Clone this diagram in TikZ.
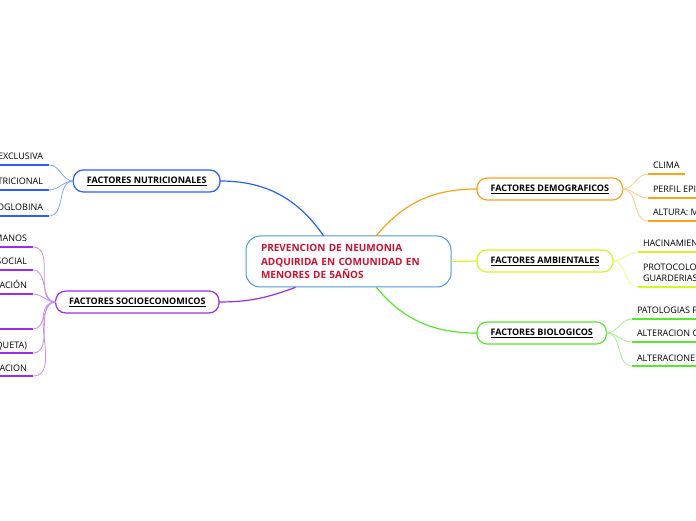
\documentclass[tikz,border=0pt]{standalone}
\usepackage{fontspec}
\setmainfont{Open Sans}
\usetikzlibrary{positioning}

\definecolor{rootline}{RGB}{74,150,222}
\definecolor{roottext}{RGB}{200,20,50}
\definecolor{nutriC}{RGB}{40,95,250}
\definecolor{socioC}{RGB}{155,45,230}
\definecolor{demoC}{RGB}{255,160,25}
\definecolor{ambC}{RGB}{215,245,35}
\definecolor{bioC}{RGB}{85,232,45}

\newcommand{\leaffont}{\fontsize{9}{11.5}\selectfont}

\begin{document}
\begin{tikzpicture}[x=1pt, y=1pt, line join=round, line cap=round,
    root/.style={draw=rootline, line width=1pt, rounded corners=14pt, fill=white,
      text width=175pt, align=left, inner xsep=15pt, minimum height=51pt,
      font=\fontsize{10}{13.5}\selectfont\bfseries, text=roottext},
    branch/.style={draw=#1, line width=1.2pt, rounded corners=10pt, fill=white,
      minimum height=22pt, inner xsep=13.5pt, outer sep=0pt,
      font=\fontsize{9}{10}\selectfont\bfseries},
    leafL/.style={anchor=south east, inner xsep=6pt, inner ysep=5pt, outer sep=0pt,
      text depth=0pt, font=\leaffont},
    leafR/.style={anchor=south west, inner xsep=5pt, inner ysep=5pt, outer sep=0pt,
      text depth=0pt, align=left, font=\leaffont},
    ul/.style={draw=#1, line width=1.8pt, line cap=butt},
    fan/.style={draw=#1!55, line width=0.8pt},
    main/.style={draw=#1, line width=1.2pt}]

    \useasboundingbox (0,0) rectangle (696,520);
    \clip (0,0) rectangle (696,520);

    % central topic
    \node[root] (prev) at (348.5,258.5)
      {PREVENCION DE NEUMONIA\\ADQUIRIDA EN COMUNIDAD EN\\MENORES DE 5AÑOS};

    % main branches
    \node[branch=nutriC, anchor=east] (nutri) at (220,339) {\underline{FACTORES NUTRICIONALES}};
    \node[branch=socioC, anchor=east] (socio) at (219,218) {\underline{FACTORES SOCIOECONOMICOS}};
    \node[branch=demoC, anchor=west] (demo) at (477,331) {\underline{FACTORES DEMOGRAFICOS}};
    \node[branch=ambC, anchor=west] (amb) at (477,259) {\underline{FACTORES AMBIENTALES}};
    \node[branch=bioC, anchor=west] (bio) at (477,187) {\underline{FACTORES BIOLOGICOS}};

    \draw[main=nutriC] (prev.134) to[out=125, in=0] (nutri.east);
    \draw[main=socioC] (prev.206) to[out=200, in=0] (socio.east);
    \draw[main=demoC] (prev.43) to[out=50, in=180] (demo.west);
    \draw[main=ambC] (prev.east) -- (amb.west);
    \draw[main=bioC] (prev.-43) to[out=-50, in=180] (bio.west);

    % leaves on the left (cut by the page edge)
    \foreach \nm/\yy/\txt in {n1/355/EXCLUSIVA, n2/330/TRICIONAL, n3/304/OGLOBINA}{
      \node[leafL] (\nm) at (49,\yy) {\txt};
      \draw[ul=nutriC] (\nm.south east) -- ++(-70,0);
      \draw[fan=nutriC] (nutri.west) to[out=180, in=0] (\nm.south east);
    }
    \foreach \nm/\yy/\txt in {s1/273/MANOS, s2/250/SOCIAL, s3/226/ACIÓN,
        s4/191/{}, s5/167/QUETA), s6/144/ACION}{
      \node[leafL] (\nm) at (33,\yy) {\txt};
      \draw[ul=socioC] (\nm.south east) -- ++(-50,0);
      \draw[fan=socioC] (socio.west) to[out=180, in=0] (\nm.south east);
    }

    % leaves on the right
    \foreach \nm/\yy/\txt in {d1/346/CLIMA, d2/322/PERFIL EPI, d3/299/ALTURA: M}{
      \node[leafR] (\nm) at (648,\yy) {\txt};
      \draw[fan=demoC] (demo.east) to[out=0, in=180] (\nm.south west);
    }
    \draw[ul=demoC] (d1.south west) -- (d1.south east);
    \draw[ul=demoC] (d2.south west) -- ++(60,0);
    \draw[ul=demoC] (d3.south west) -- ++(60,0);

    \foreach \nm/\yy/\txt in {a1/268/HACINAMIEN, a2/233/PROTOCOLO\\GUARDERIAS}{
      \node[leafR] (\nm) at (638,\yy) {\txt};
      \draw[ul=ambC] (\nm.south west) -- ++(70,0);
      \draw[fan=ambC] (amb.east) to[out=0, in=180] (\nm.south west);
    }

    \foreach \nm/\yy/\txt in {b1/201/PATOLOGIAS P, b2/178/ALTERACION C, b3/154/ALTERACIONE}{
      \node[leafR] (\nm) at (632,\yy) {\txt};
      \draw[ul=bioC] (\nm.south west) -- ++(75,0);
      \draw[fan=bioC] (bio.east) to[out=0, in=180] (\nm.south west);
    }
\end{tikzpicture}
\end{document}
